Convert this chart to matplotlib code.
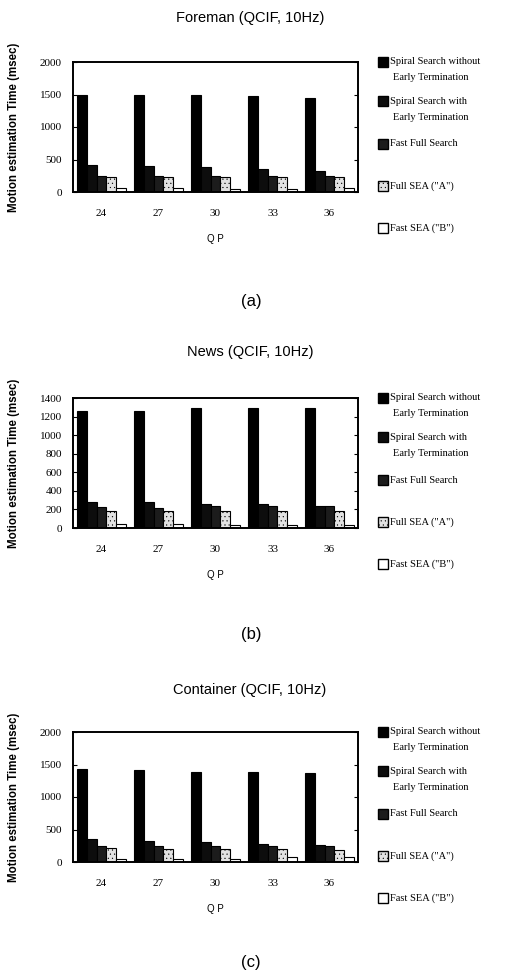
import matplotlib

matplotlib.use("Agg")

import matplotlib.pyplot as plt
import numpy as np
from matplotlib.patches import Rectangle


QP = ["24", "27", "30", "33", "36"]

SERIES = [
    "Spiral Search without\nEarly Termination",
    "Spiral Search with\nEarly Termination",
    "Fast Full Search",
    'Full SEA ("A")',
    'Fast SEA ("B")',
]

# motion estimation time (msec), one list per method
foreman_spiral = [1490, 1490, 1490, 1475, 1450]
foreman_spiral_et = [415, 405, 380, 355, 330]
foreman_ffs = [250, 250, 250, 250, 250]
foreman_full_sea = [230, 225, 225, 225, 225]
foreman_fast_sea = [65, 55, 45, 50, 60]

news_spiral = [1265, 1262, 1295, 1295, 1295]
news_spiral_et = [282, 275, 258, 255, 240]
news_ffs = [225, 218, 232, 232, 240]
news_full_sea = [187, 187, 180, 180, 185]
news_fast_sea = [38, 42, 36, 36, 36]

container_spiral = [1430, 1410, 1390, 1385, 1375]
container_spiral_et = [355, 330, 310, 270, 260]
container_ffs = [250, 250, 250, 245, 245]
container_full_sea = [210, 205, 205, 200, 180]
container_fast_sea = [40, 40, 40, 70, 70]

PANELS = [
    ("Foreman (QCIF, 10Hz)", "(a)", 2000, 500,
     [foreman_spiral, foreman_spiral_et, foreman_ffs, foreman_full_sea, foreman_fast_sea]),
    ("News (QCIF, 10Hz)", "(b)", 1400, 200,
     [news_spiral, news_spiral_et, news_ffs, news_full_sea, news_fast_sea]),
    ("Container (QCIF, 10Hz)", "(c)", 2000, 500,
     [container_spiral, container_spiral_et, container_ffs, container_full_sea, container_fast_sea]),
]

STYLES = [
    dict(facecolor="black", edgecolor="black", hatch=None),
    dict(facecolor="#0d0d0d", edgecolor="black", hatch=None),
    dict(facecolor="#1c1c1c", edgecolor="black", hatch=None),
    dict(facecolor="#e2e2e2", edgecolor="black", hatch="...."),
    dict(facecolor="white", edgecolor="black", hatch=None),
]

# figure layout in pixels (figure is 505 x 976)
W, H = 505.0, 976.0
AX_LEFT, AX_RIGHT = 73, 358
AX_TOPS = [62, 398, 732]
AX_HEIGHT = 130
TITLE_Y = [18, 352, 690]
CAPTION_Y = [302, 635, 962]
KEY_OFFSETS = [0, 39, 82, 124, 166]

SERIF = "Liberation Serif"
SANS = "Liberation Sans"

plt.rcParams["hatch.linewidth"] = 0.3


def draw_key(ax):
    span = AX_RIGHT - AX_LEFT
    for k, (label, style) in enumerate(zip(SERIES, STYLES)):
        y = 1.0 - KEY_OFFSETS[k] / AX_HEIGHT
        x0 = (378 - AX_LEFT) / span
        ax.add_patch(Rectangle(
            (x0, y - 5 / AX_HEIGHT), 10 / span, 10 / AX_HEIGHT,
            transform=ax.transAxes, clip_on=False, linewidth=1.0,
            facecolor=style["facecolor"], edgecolor=style["edgecolor"],
            hatch=style["hatch"],
        ))
        lines = label.split("\n")
        tx = (390 - AX_LEFT) / span
        ax.text(tx, y, lines[0], transform=ax.transAxes, ha="left", va="center",
                fontsize=7.5, family=SERIF)
        if len(lines) > 1:
            ax.text(tx + 3 / span, y - 16 / AX_HEIGHT, lines[1],
                    transform=ax.transAxes, ha="left", va="center",
                    fontsize=7.5, family=SERIF)


fig = plt.figure(figsize=(W / 100, H / 100), dpi=100)
x = np.arange(len(QP))
width = 0.17

for i, (title, caption, ymax, step, series) in enumerate(PANELS):
    top = AX_TOPS[i]
    ax = fig.add_axes([
        AX_LEFT / W, 1 - (top + AX_HEIGHT) / H,
        (AX_RIGHT - AX_LEFT) / W, AX_HEIGHT / H,
    ])
    for j, values in enumerate(series):
        st = STYLES[j]
        ax.bar(x + (j - 2) * width, values, width,
               color=st["facecolor"], edgecolor=st["edgecolor"],
               hatch=st["hatch"], linewidth=0.8)

    ax.set_xlim(-0.5, len(QP) - 0.5)
    ax.set_ylim(0, ymax)
    ax.set_yticks(np.arange(0, ymax + 1, step))
    ax.set_xticks(x)
    ax.set_xticklabels(QP, family=SERIF, fontsize=8)
    for lab in ax.get_yticklabels():
        lab.set_family(SERIF)
        lab.set_fontsize(8)
    ax.tick_params(axis="x", length=0, pad=12)
    ax.tick_params(axis="y", direction="in", length=3, right=True, pad=8)
    for spine in ax.spines.values():
        spine.set_linewidth(1.4)

    ax.set_xlabel("Q P", family=SANS, fontsize=7, labelpad=12)
    ax.set_ylabel("Motion estimation Time (msec)", family=SANS,
                  fontsize=8.3, fontweight="bold")
    ax.yaxis.set_label_coords(-0.185, 0.5)

    draw_key(ax)

    fig.text(0.495, 1 - TITLE_Y[i] / H, title, ha="center", va="center",
             family=SANS, fontsize=10.5)
    fig.text(0.497, 1 - CAPTION_Y[i] / H, caption, ha="center", va="center",
             family=SANS, fontsize=12)

fig.savefig("out.png", dpi=100)
